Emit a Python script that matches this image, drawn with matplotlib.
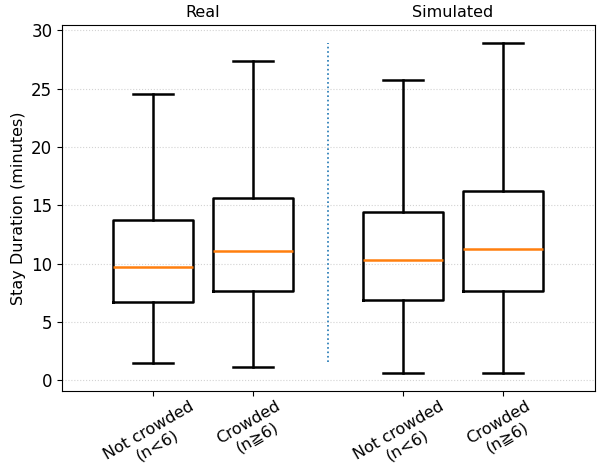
import numpy as np
import matplotlib.pyplot as plt

# box statistics (minutes)
labels = ['Not crowded\n(n<6)', 'Crowded\n(n≧6)', 'Not crowded\n(n<6)', 'Crowded\n(n≧6)']
positions = [1, 2, 3.5, 4.5]
whislo = [1.45, 1.15, 0.6, 0.6]
q1 = [6.7, 7.7, 6.85, 7.7]
med = [9.75, 11.05, 10.3, 11.3]
q3 = [13.75, 15.6, 14.45, 16.25]
whishi = [24.55, 27.35, 25.75, 28.95]
groups = ['Real', 'Simulated']
groupCenters = [1.5, 4.0]
separator = 2.75


def main() -> None:
    fig, ax = plt.subplots(figsize=(5.97, 4.76), dpi=100)

    stats = []
    for i in range(len(labels)):
        stats.append({'whislo': whislo[i], 'q1': q1[i], 'med': med[i],
                      'q3': q3[i], 'whishi': whishi[i], 'fliers': []})

    ax.bxp(stats, positions=positions, widths=0.8, showfliers=False,
           boxprops={'linewidth': 1.8, 'color': 'black'},
           whiskerprops={'linewidth': 1.8, 'color': 'black'},
           capprops={'linewidth': 1.8, 'color': 'black'},
           medianprops={'linewidth': 1.8, 'color': 'tab:orange'})

    ax.plot([separator, separator], [1.6, 28.9], linestyle=':', color='tab:blue', linewidth=1.2)

    ax.set_xlim(0.09, 5.42)
    ax.set_ylim(-0.9, 30.45)
    ax.set_yticks(np.arange(0, 31, 5))
    ax.set_xticks(positions)
    ax.set_xticklabels(labels, rotation=30, ha='center', multialignment='center', fontsize=11.5)
    ax.tick_params(axis='x', pad=2)
    ax.tick_params(axis='y', labelsize=12)
    ax.yaxis.grid(True, linestyle=':', color='lightgray', linewidth=0.8)
    ax.set_axisbelow(True)
    ax.set_ylabel('Stay Duration (minutes)', fontsize=11.5)

    for name, center in zip(groups, groupCenters):
        ax.text(center, 1.015, name, transform=ax.get_xaxis_transform(),
                ha='center', va='bottom', fontsize=11.5)

    fig.subplots_adjust(left=0.104, right=0.996, top=0.947, bottom=0.179)
    fig.savefig('out.png', dpi=100)


if __name__ == '__main__':
    main()
